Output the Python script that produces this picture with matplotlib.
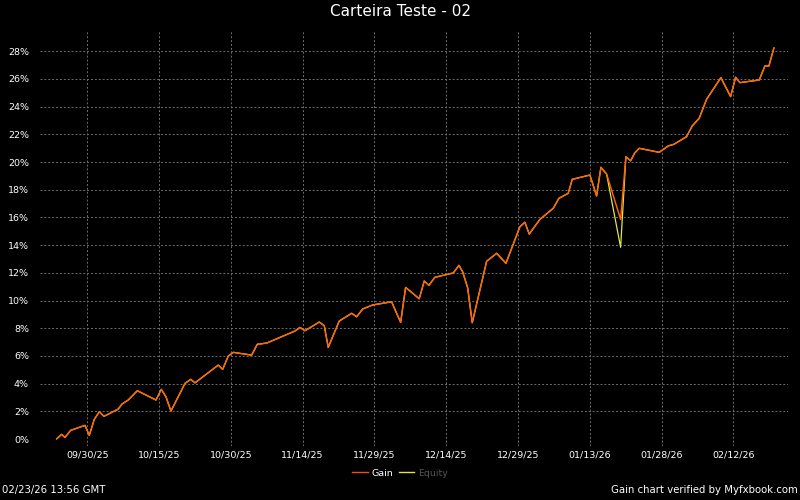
import matplotlib
matplotlib.use("Agg")
import matplotlib.pyplot as plt
import matplotlib.dates as mdates
import numpy as np
import pandas as pd
from matplotlib.lines import Line2D

title = "Carteira Teste - 02"
base_date = "2025-09-30"
# day offsets (fractional) from base_date for each data point
day_offsets = [-6.39, -5.35, -4.66, -3.47, -0.48, 0.42, 1.46, 2.51, 3.49, 6.48,
               7.25, 8.56, 10.45, 14.35, 15.46, 16.44, 17.48, 20.41, 21.60, 22.50,
               27.37, 28.28, 29.45, 30.50, 34.34, 35.51, 37.48, 43.39, 44.43, 45.48,
               48.46, 49.51, 50.34, 52.64, 55.23, 56.28, 57.53, 59.62, 63.59, 64.49,
               65.47, 66.51, 69.35, 70.40, 71.38, 72.63, 76.46, 77.65, 78.42, 79.47,
               80.43, 83.43, 85.52, 87.47, 90.39, 91.43, 92.33, 94.57, 97.35, 98.54,
               100.48, 101.32, 105.01, 106.41, 107.31, 108.50, 111.43, 112.53, 113.52, 114.41,
               115.31, 119.49, 121.37, 122.56, 125.21, 126.38, 127.85, 129.39, 132.38, 134.41,
               135.45, 136.35, 140.38, 141.57, 142.41, 143.45]
gain = [0.02, 0.34, 0.12, 0.63, 0.99, 0.27, 1.42, 1.97, 1.64, 2.17,
        2.53, 2.82, 3.49, 2.82, 3.59, 3.05, 2.02, 4.02, 4.31, 4.06,
        5.34, 5.03, 5.99, 6.26, 6.06, 6.84, 6.93, 7.80, 8.06, 7.82,
        8.45, 8.18, 6.62, 8.52, 9.08, 8.83, 9.39, 9.68, 9.91, 9.19,
        8.43, 10.95, 10.13, 11.41, 11.10, 11.68, 11.99, 12.54, 12.08, 10.92,
        8.40, 12.83, 13.41, 12.69, 15.33, 15.65, 14.80, 15.86, 16.66, 17.38,
        17.74, 18.75, 19.06, 17.55, 19.62, 19.13, 15.86, 20.38, 20.09, 20.67,
        20.99, 20.70, 21.16, 21.28, 21.83, 22.60, 23.16, 24.53, 26.09, 24.72,
        26.12, 25.73, 25.92, 26.93, 26.93, 28.23]
equity = [0.02, 0.34, 0.12, 0.63, 0.99, 0.27, 1.42, 1.97, 1.64, 2.17,
          2.53, 2.82, 3.49, 2.82, 3.59, 3.05, 2.02, 4.02, 4.31, 4.06,
          5.34, 5.03, 5.99, 6.26, 6.06, 6.84, 6.93, 7.80, 8.06, 7.82,
          8.45, 8.18, 6.62, 8.52, 9.08, 8.83, 9.39, 9.68, 9.91, 9.19,
          8.43, 10.95, 10.13, 11.41, 11.10, 11.68, 11.99, 12.54, 12.08, 10.92,
          8.40, 12.83, 13.41, 12.69, 15.33, 15.65, 14.80, 15.86, 16.66, 17.38,
          17.74, 18.75, 19.06, 17.55, 19.62, 19.13, 13.84, 20.38, 20.09, 20.67,
          20.99, 20.70, 21.16, 21.28, 21.83, 22.60, 23.16, 24.53, 26.09, 24.72,
          26.12, 25.73, 25.92, 26.93, 26.93, 28.23]
tick_dates = ["2025-09-30", "2025-10-15", "2025-10-30", "2025-11-14", "2025-11-29",
              "2025-12-14", "2025-12-29", "2026-01-13", "2026-01-28", "2026-02-12"]
y_ticks = list(range(0, 29, 2))
footer_left = "02/23/26 13:56 GMT"
footer_right = "Gain chart verified by Myfxbook.com"

base = pd.Timestamp(base_date)
dates = [base + pd.Timedelta(days=d) for d in day_offsets]

fig = plt.figure(figsize=(8, 5), dpi=100, facecolor="black")
ax = fig.add_axes([0.05, 0.108, 0.935, 0.832], facecolor="black")

gain_c = "#ff6600"
eq_c = "#e4e44a"
ax.plot(dates, equity, color=eq_c, lw=0.9, zorder=3)
ax.plot(dates, gain, color=gain_c, lw=1.05, zorder=4)

ax.set_xlim(base + pd.Timedelta(days=-9.88), base + pd.Timedelta(days=146.4))
ax.set_ylim(-0.5, 29.53)
ax.set_yticks(y_ticks)
ax.set_yticklabels([f"{v}%" for v in y_ticks])
ax.set_xticks([pd.Timestamp(t) for t in tick_dates])
ax.xaxis.set_major_formatter(mdates.DateFormatter("%m/%d/%y"))

for s in ax.spines.values():
    s.set_visible(False)
ax.tick_params(axis="both", colors="white", labelsize=6.8, length=0)
ax.tick_params(axis="y", pad=8)
ax.tick_params(axis="x", pad=3)
ax.grid(True, color="#6e6e6e", linestyle=(0, (2, 2)), linewidth=0.7)
ax.get_ygridlines()[0].set_visible(False)

fig.text(0.5, 1 - 11 / 500, title, color="white", fontsize=11, ha="center", va="center")
fig.text(0.003, 1 - 490 / 500, footer_left, color="white", fontsize=7.3, ha="left", va="center")
fig.text(0.997, 1 - 490 / 500, footer_right, color="white", fontsize=7.3, ha="right", va="center")

handles = [Line2D([], [], color="#e8501e", lw=1.0), Line2D([], [], color=eq_c, lw=1.0)]
leg = fig.legend(handles, ["Gain", "Equity"], loc="center", bbox_to_anchor=(0.5, 1 - 473 / 500),
                 ncol=2, frameon=False, fontsize=6.8, handlelength=1.6, handletextpad=0.4,
                 columnspacing=0.6)
leg.get_texts()[0].set_color("white")
leg.get_texts()[1].set_color("#555555")

fig.savefig("out.png", dpi=100, facecolor="black")
